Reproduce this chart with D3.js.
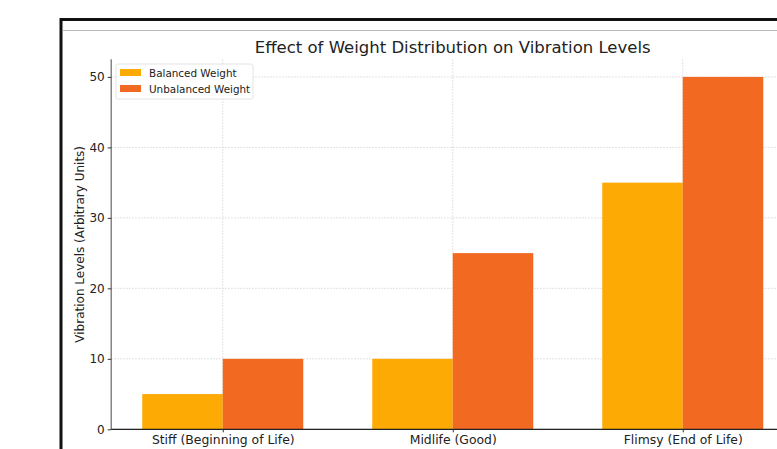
<!DOCTYPE html>
<html>
<head>
<meta charset="utf-8">
<script src="https://cdn.jsdelivr.net/npm/d3@7"></script>
<style>
  html, body { margin: 0; padding: 0; background: #fff; }
  svg { display: block; font-family: "DejaVu Sans", sans-serif; }
</style>
</head>
<body>
<svg id="chart" width="777" height="449"></svg>
<script>
// Data
const categories = ["Stiff (Beginning of Life)", "Midlife (Good)", "Flimsy (End of Life)"];
const balancedWeight = [5, 10, 35];
const unbalancedWeight = [10, 25, 50];
const seriesNames = ["Balanced Weight", "Unbalanced Weight"];
const seriesColors = ["#FDAA05", "#F26A22"];
const yTicks = [0, 10, 20, 30, 40, 50];

const svg = d3.select("#chart");

// Outer window frame
svg.append("line").attr("x1", 61).attr("y1", 19.5).attr("x2", 777).attr("y2", 19.5)
  .attr("stroke", "#111").attr("stroke-width", 3);
svg.append("line").attr("x1", 61).attr("y1", 18).attr("x2", 61).attr("y2", 449)
  .attr("stroke", "#111").attr("stroke-width", 3);
svg.append("line").attr("x1", 62.5).attr("y1", 30.5).attr("x2", 777).attr("y2", 30.5)
  .attr("stroke", "#bbb").attr("stroke-width", 1);

// Plot area
const plotLeft = 111.2, plotTop = 59.3, plotBottom = 429.3;
const barWidth = 0.35;
const xMin = -0.485, xMax = 2.485;
const x = d3.scaleLinear().domain([xMin, xMax]).range([plotLeft, plotLeft + (xMax - xMin) * 230]);
const y = d3.scaleLinear().domain([0, 52.5]).range([plotBottom, plotTop]);

const g = svg.append("g");

// Grid lines
g.selectAll(".hgrid").data(yTicks).join("line")
  .attr("x1", plotLeft).attr("x2", 777)
  .attr("y1", d => y(d)).attr("y2", d => y(d))
  .attr("stroke", "#cfcfcf").attr("stroke-width", 0.8).attr("stroke-dasharray", "1.5,1.5");
g.selectAll(".vgrid").data(categories.map((c, i) => i)).join("line")
  .attr("x1", d => x(d)).attr("x2", d => x(d))
  .attr("y1", plotTop).attr("y2", plotBottom)
  .attr("stroke", "#cfcfcf").attr("stroke-width", 0.8).attr("stroke-dasharray", "1.5,1.5");

// Bars
const series = [balancedWeight, unbalancedWeight];
series.forEach((vals, s) => {
  g.selectAll(".bar" + s).data(vals).join("rect")
    .attr("x", (d, i) => x(i + (s === 0 ? -barWidth : 0)))
    .attr("width", (d, i) => x(i + barWidth) - x(i))
    .attr("y", d => y(d))
    .attr("height", d => y(0) - y(d))
    .attr("fill", seriesColors[s]);
});

// Axes
const yAxis = d3.axisLeft(y).tickValues(yTicks).tickSize(3.5).tickPadding(3);
const yG = svg.append("g").attr("transform", `translate(${plotLeft},0)`).call(yAxis);
yG.select(".domain").attr("stroke", "#666").attr("stroke-width", 1.2).attr("d", `M0,${plotTop}V${plotBottom}`);
yG.selectAll(".tick line").attr("stroke", "#333");
yG.selectAll(".tick text").attr("font-size", 12).attr("fill", "#222")
  .attr("font-family", "DejaVu Sans, sans-serif");

const xAxis = d3.axisBottom(x).tickValues([0, 1, 2]).tickFormat(i => categories[i]).tickSize(3).tickPadding(3);
const xG = svg.append("g").attr("transform", `translate(0,${plotBottom})`).call(xAxis);
xG.select(".domain").attr("stroke", "#222").attr("stroke-width", 1.2).attr("d", `M${plotLeft},0H777`);
xG.selectAll(".tick line").attr("stroke", "#333");
xG.selectAll(".tick text").attr("font-size", 12.4).attr("fill", "#222")
  .attr("font-family", "DejaVu Sans, sans-serif");

// Title
svg.append("text").attr("x", 452.7).attr("y", 53).attr("text-anchor", "middle")
  .attr("font-size", 16.5).attr("fill", "#222")
  .text("Effect of Weight Distribution on Vibration Levels");

// Y-axis label
svg.append("text")
  .attr("transform", `translate(84,${(plotTop + plotBottom) / 2}) rotate(-90)`)
  .attr("text-anchor", "middle").attr("font-size", 12).attr("fill", "#222")
  .text("Vibration Levels (Arbitrary Units)");

// Legend
const lg = svg.append("g").attr("transform", "translate(116,64)");
lg.append("rect").attr("x", 0).attr("y", 0).attr("width", 137).attr("height", 35).attr("rx", 2)
  .attr("fill", "#fff").attr("fill-opacity", 0.85).attr("stroke", "#ddd").attr("stroke-width", 0.8);
seriesNames.forEach((name, i) => {
  lg.append("rect").attr("x", 4).attr("y", 5 + i * 16).attr("width", 21).attr("height", 7)
    .attr("fill", seriesColors[i]);
  lg.append("text").attr("x", 33).attr("y", 12.5 + i * 16).attr("font-size", 10.4)
    .attr("fill", "#222").text(name);
});
</script>
</body>
</html>
